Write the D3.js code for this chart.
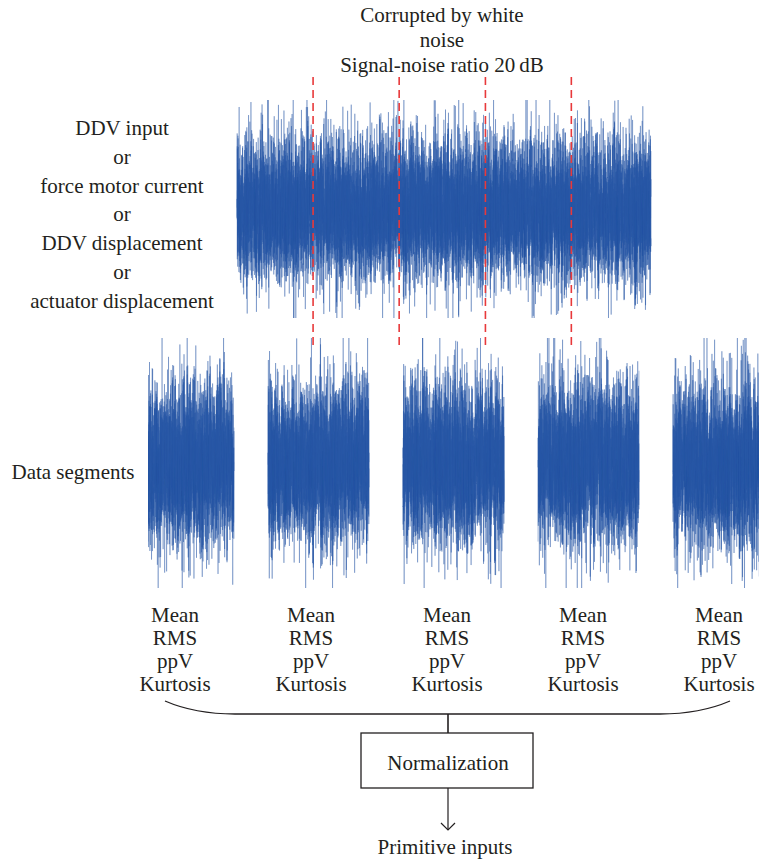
<!DOCTYPE html>
<html>
<head>
<meta charset="utf-8">
<script src="https://cdn.jsdelivr.net/npm/d3@7"></script>
<style>
  body { margin: 0; background: #fff; }
  svg text { font-family: 'Liberation Serif', 'DejaVu Serif', serif; fill: #231f20; }
</style>
</head>
<body>
<svg id="canvas"></svg>
<script>
// text content of the diagram
const titleLines = ['Corrupted by white', 'noise', 'Signal-noise ratio 20\u2009dB']
const inputLabels = ['DDV input', 'or', 'force motor current', 'or', 'DDV displacement', 'or', 'actuator displacement']
const segmentLabel = 'Data segments'
const statLabels = ['Mean', 'RMS', 'ppV', 'Kurtosis']
const boxLabel = 'Normalization'
const outputLabel = 'Primitive inputs'

// signal description (sample counts, cut points into the long record, noise seeds)
const signalLength = 12000
const cutPoints = [2205, 4700, 7200, 9690]
const segmentLength = 2900
const segmentSeeds = [11, 23, 37, 41, 59]
const signalSeed = 7

const width = 759, height = 860
const fontSize = 21
const svg = d3.select('#canvas').attr('width', width).attr('height', height)

// white noise illustration: seeded gaussian generator so the picture is stable
const noise = (n, seed) => {
    const gen = d3.randomNormal.source(d3.randomLcg(seed / 100))(0, 1)
    return d3.range(n).map(() => gen())
}

const drawNoise = (g, values, xScale, yScale) => {
    const line = d3.line().x((d, i) => xScale(i)).y(d => yScale(d))
    g.append('path')
        .attr('d', line(values))
        .attr('fill', 'none')
        .attr('stroke', '#2856a6')
        .attr('stroke-width', 0.7)
        .attr('stroke-opacity', 0.55)
}

const addLines = (lines, x, y0, step) => {
    svg.append('g').selectAll('text')
        .data(lines)
        .enter()
        .append('text')
            .attr('x', x).attr('y', (d, i) => y0 + i * step)
            .attr('dy', '0.35em')
            .attr('text-anchor', 'middle')
            .attr('font-size', fontSize)
            .text(d => d)
}

// top: long record
const xTop = d3.scaleLinear().domain([0, signalLength - 1]).range([237, 651])
const yTop = d3.scaleLinear().domain([-3.05, 3.05]).range([318, 100]).clamp(true)
drawNoise(svg.append('g'), noise(signalLength, signalSeed), xTop, yTop)

// cut lines
svg.append('g').selectAll('line')
    .data(cutPoints)
    .enter()
    .append('line')
        .attr('x1', d => xTop(d)).attr('x2', d => xTop(d))
        .attr('y1', 77).attr('y2', 350)
        .attr('stroke', '#e8393b')
        .attr('stroke-width', 1.6)
        .attr('stroke-dasharray', '8,5')

// segments (the outer two run past the visible area and are clipped)
svg.append('defs').append('clipPath').attr('id', 'segClip')
    .append('rect').attr('x', 148).attr('y', 0).attr('width', 611).attr('height', height)
const segX = d3.scaleBand().domain(d3.range(segmentSeeds.length)).range([133, 774]).paddingInner(0.252)
const ySeg = d3.scaleLinear().domain([-3.0, 3.0]).range([588, 338]).clamp(true)
const segG = svg.append('g').attr('clip-path', 'url(#segClip)')
segmentSeeds.forEach((seed, k) => {
    const xs = d3.scaleLinear().domain([0, segmentLength - 1]).range([segX(k), segX(k) + segX.bandwidth()])
    drawNoise(segG.append('g'), noise(segmentLength, seed), xs, ySeg)
})

// texts
addLines(titleLines, 442, 15, 25)
addLines(inputLabels, 122, 128, 28.7)
svg.append('text')
    .attr('x', 73).attr('y', 472).attr('dy', '0.35em')
    .attr('text-anchor', 'middle').attr('font-size', fontSize)
    .text(segmentLabel)

// stats under each segment
const statX = d3.scalePoint().domain(d3.range(segmentSeeds.length)).range([175, 719])
segmentSeeds.forEach((d, k) => addLines(statLabels, statX(k), 615, 23))

// brace
const braceLeft = 165, braceRight = 730, braceTop = 701, braceBottom = 714, mid = 448
svg.append('path')
    .attr('d', `M${braceLeft},${braceTop} Q${braceLeft + 30},${braceBottom} ${braceLeft + 70},${braceBottom} L${braceRight - 70},${braceBottom} Q${braceRight - 30},${braceBottom} ${braceRight},${braceTop}`)
    .attr('fill', 'none').attr('stroke', '#231f20').attr('stroke-width', 1.3)
svg.append('line')
    .attr('x1', mid).attr('x2', mid).attr('y1', braceBottom).attr('y2', 733)
    .attr('stroke', '#231f20').attr('stroke-width', 1.6)

// normalization box
svg.append('rect')
    .attr('x', 361).attr('y', 733).attr('width', 172).attr('height', 55)
    .attr('fill', '#fff').attr('stroke', '#231f20').attr('stroke-width', 1.3)
svg.append('text')
    .attr('x', mid).attr('y', 763).attr('dy', '0.35em')
    .attr('text-anchor', 'middle').attr('font-size', fontSize)
    .text(boxLabel)

// arrow
svg.append('line')
    .attr('x1', mid).attr('x2', mid).attr('y1', 788).attr('y2', 830)
    .attr('stroke', '#231f20').attr('stroke-width', 1.2)
svg.append('path')
    .attr('d', `M${mid - 7},${823} L${mid},${830} L${mid + 7},${823}`)
    .attr('fill', 'none').attr('stroke', '#231f20').attr('stroke-width', 1.2)

svg.append('text')
    .attr('x', 445).attr('y', 847).attr('dy', '0.35em')
    .attr('text-anchor', 'middle').attr('font-size', fontSize)
    .text(outputLabel)
</script>
</body>
</html>
